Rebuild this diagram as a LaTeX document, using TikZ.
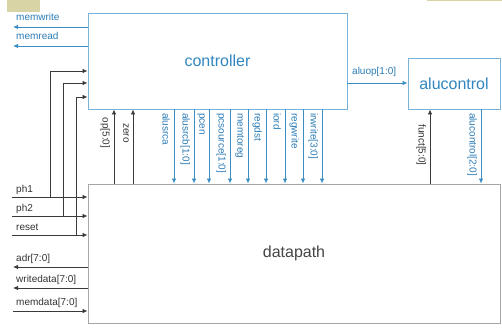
\documentclass[tikz,border=0pt]{standalone}
\usepackage{fontspec}
\setmainfont{Liberation Sans}
\usetikzlibrary{arrows.meta,calc}
\definecolor{tanfill}{HTML}{D9D4A5}
\definecolor{boxblue}{HTML}{7AB3D9}
\definecolor{sigblue}{HTML}{3B8EC4}
\definecolor{labblue}{HTML}{2A7BB5}
\definecolor{ctrltext}{HTML}{2F86C0}
\definecolor{boxgray}{HTML}{A6A6A6}
\definecolor{sigdark}{HTML}{3A3A3A}
\definecolor{labdark}{HTML}{333333}
\definecolor{dptext}{HTML}{444444}
\begin{document}
\begin{tikzpicture}[x=1pt,y=-1pt,
  box/.style={draw, rectangle, inner sep=0pt, line width=0.9pt},
  bsig/.style={draw=sigblue, line width=0.8pt, -{Latex[length=5pt,width=4.5pt]}},
  ksig/.style={draw=sigdark, line width=0.8pt, -{Latex[length=5pt,width=4.5pt]}},
  blab/.style={text=labblue, font=\fontsize{10}{12}\selectfont, inner sep=0pt},
  klab/.style={text=labdark, font=\fontsize{10}{12}\selectfont, inner sep=0pt},
  bigtext/.style={font=\fontsize{16}{19}\selectfont}
]
\useasboundingbox (0,0) rectangle (502,331);
\fill[tanfill] (7,0) rectangle (40,12);
\fill[tanfill] (427,0) rectangle (502,1.2);

% blocks
\node[box, draw=boxblue, minimum width=259pt, minimum height=96pt, text=ctrltext, bigtext] (ctrl) at (217.5,61) {controller};
\node[box, draw=boxblue, minimum width=92pt, minimum height=51pt, text=ctrltext, bigtext] (aluc) at (454,83.5) {alucontrol};
\node[box, draw=boxgray, minimum width=412pt, minimum height=139pt, text=dptext, bigtext] (dp) at (294,253.5) {datapath};

% memwrite / memread
\coordinate (mw) at (13,27);
\draw[bsig] (ctrl.west |- mw) -- (mw);
\node[blab, anchor=base west] (lmw) at (16,21) {memwrite};
\coordinate (mr) at (13,46);
\draw[bsig] (ctrl.west |- mr) -- (mr);
\node[blab, anchor=base west] (lmr) at (16,40) {memread};

% ph1, ph2, reset
\foreach \yy/\vx/\cy/\t [count=\i] in {197/50/71/ph1, 216/63/83/ph2, 235/76/97/reset} {
  \coordinate (in\i) at (12,\yy);
  \coordinate (j\i) at (\vx,\yy);
  \coordinate (cy\i) at (0,\cy);
  \draw[ksig] (in\i) -- (dp.west |- in\i);
  \draw[ksig] (j\i) |- (ctrl.west |- cy\i);
  \node[klab, anchor=base west] (lin\i) at (16,\yy-5) {\t};
}

% datapath memory buses
\coordinate (ad) at (13,267);
\draw[ksig] (dp.west |- ad) -- (ad);
\node[klab, anchor=base west] (lad) at (16,261) {adr[7:0]};
\coordinate (wd) at (13,288);
\draw[ksig] (dp.west |- wd) -- (wd);
\node[klab, anchor=base west] (lwd) at (16,282) {writedata[7:0]};
\coordinate (md) at (13,311);
\draw[ksig] (md) -- (dp.west |- md);
\node[klab, anchor=base west] (lmd) at (16,305) {memdata[7:0]};

% op, zero
\coordinate (op) at (114,0);
\draw[ksig] (dp.north -| op) -- (ctrl.south -| op);
\node[klab, rotate=-90, anchor=north] (lop) at (110,133) {op[5:0]};
\coordinate (zr) at (133,0);
\draw[ksig] (dp.north -| zr) -- (ctrl.south -| zr);
\node[klab, rotate=-90, anchor=north] (lzr) at (129,133) {zero};

% control signals
\foreach \x/\lab [count=\i] in {174/alusrca, 194/{alusrcb[1:0]}, 209/pcen, 230/{pcsource[1:0]}, 248/memtoreg, 266/regdst, 285/iord, 303/regwrite, 322/{irwrite[3:0]}} {
  \coordinate (c\i) at (\x,0);
  \draw[bsig] (ctrl.south -| c\i) -- (dp.north -| c\i);
  \node[blab, rotate=-90, anchor=north west] (lc\i) at (\x-4,113) {\lab};
}

% aluop
\coordinate (aly) at (0,83);
\draw[bsig] (ctrl.east |- aly) -- (aluc.west |- aly);
\node[blab, anchor=base west] (laly) at (352,75) {aluop[1:0]};

% funct, alucontrol
\coordinate (fn) at (430,0);
\draw[ksig] (dp.north -| fn) -- (aluc.south -| fn);
\node[klab, rotate=-90, anchor=north] (lfn) at (426,145) {funct[5:0]};
\coordinate (ac) at (481,0);
\draw[bsig] (aluc.south -| ac) -- (dp.north -| ac);
\node[blab, rotate=-90, anchor=north west] (lac) at (477,113) {alucontrol[2:0]};
\end{tikzpicture}
\end{document}
